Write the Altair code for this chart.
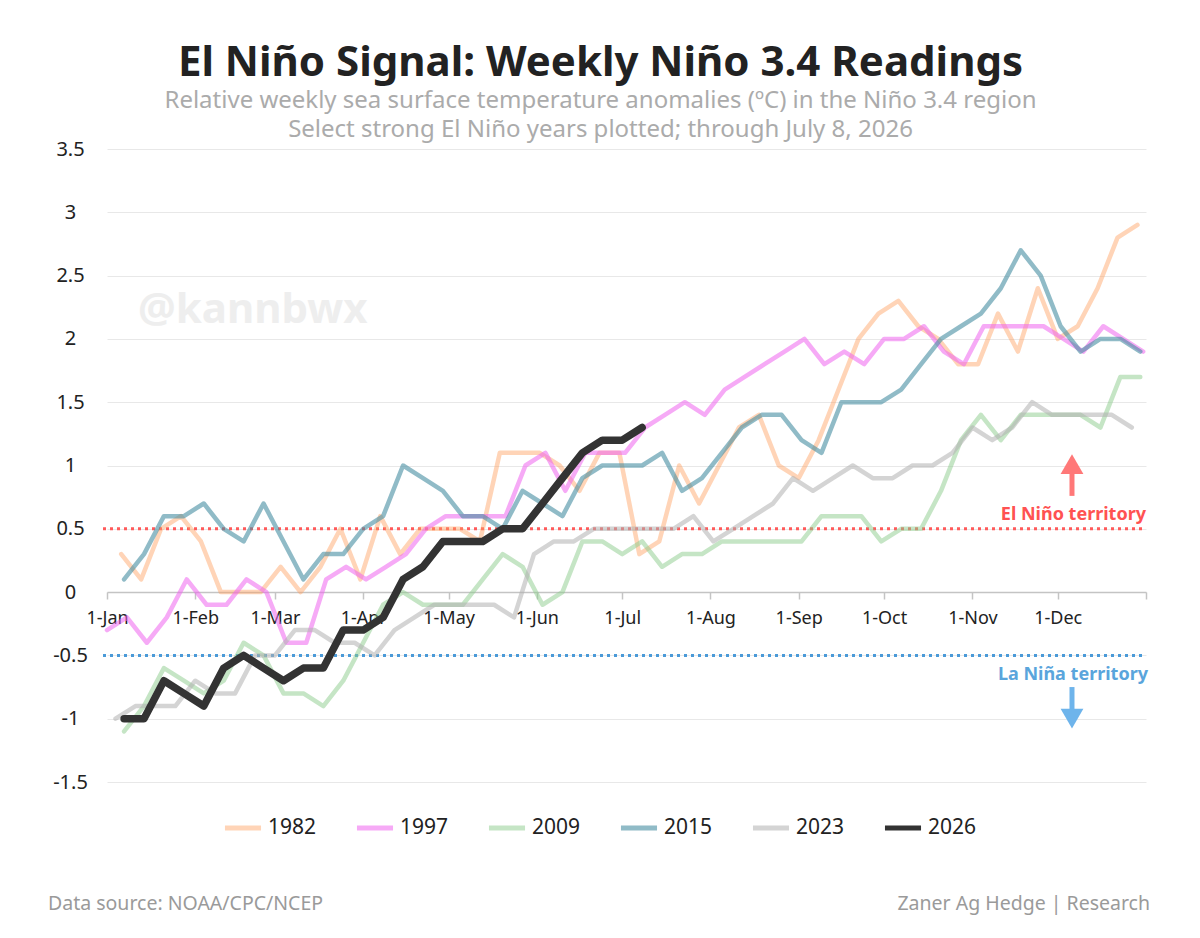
import altair as alt
import pandas as pd

FONT = "Noto Sans"

# Weekly Niño 3.4 anomalies (°C); each season starts on its own first Wednesday,
# shown on a common January–December calendar.
years = ["1982", "1997", "2009", "2015", "2023", "2026"]
start_dates = {
    "1982": "2026-01-06",
    "1997": "2026-01-01",
    "2009": "2026-01-07",
    "2015": "2026-01-07",
    "2023": "2026-01-04",
    "2026": "2026-01-07",
}

v1982 = [0.3, 0.1, 0.5, 0.6, 0.4, 0.0, 0.0, 0.0, 0.2, 0.0, 0.2, 0.5, 0.1,
         0.6, 0.3, 0.5, 0.5, 0.5, 0.4, 1.1, 1.1, 1.1, 1.0, 0.8, 1.1, 1.1,
         0.3, 0.4, 1.0, 0.7, 1.0, 1.3, 1.4, 1.0, 0.9, 1.2, 1.6, 2.0, 2.2,
         2.3, 2.1, 2.0, 1.8, 1.8, 2.2, 1.9, 2.4, 2.0, 2.1, 2.4, 2.8, 2.9]
v1997 = [-0.3, -0.2, -0.4, -0.2, 0.1, -0.1, -0.1, 0.1, 0.0, -0.4, -0.4, 0.1,
         0.2, 0.1, 0.2, 0.3, 0.5, 0.6, 0.6, 0.6, 0.6, 1.0, 1.1, 0.8, 1.1,
         1.1, 1.1, 1.3, 1.4, 1.5, 1.4, 1.6, 1.7, 1.8, 1.9, 2.0, 1.8, 1.9,
         1.8, 2.0, 2.0, 2.1, 1.9, 1.8, 2.1, 2.1, 2.1, 2.1, 2.0, 1.9, 2.1,
         2.0, 1.9]
v2009 = [-1.1, -0.9, -0.6, -0.7, -0.8, -0.7, -0.4, -0.5, -0.8, -0.8, -0.9,
         -0.7, -0.4, -0.1, 0.0, -0.1, -0.1, -0.1, 0.1, 0.3, 0.2, -0.1, 0.0,
         0.4, 0.4, 0.3, 0.4, 0.2, 0.3, 0.3, 0.4, 0.4, 0.4, 0.4, 0.4, 0.6,
         0.6, 0.6, 0.4, 0.5, 0.5, 0.8, 1.2, 1.4, 1.2, 1.4, 1.4, 1.4, 1.4,
         1.3, 1.7, 1.7]
v2015 = [0.1, 0.3, 0.6, 0.6, 0.7, 0.5, 0.4, 0.7, 0.4, 0.1, 0.3, 0.3, 0.5,
         0.6, 1.0, 0.9, 0.8, 0.6, 0.6, 0.5, 0.8, 0.7, 0.6, 0.9, 1.0, 1.0,
         1.0, 1.1, 0.8, 0.9, 1.1, 1.3, 1.4, 1.4, 1.2, 1.1, 1.5, 1.5, 1.5,
         1.6, 1.8, 2.0, 2.1, 2.2, 2.4, 2.7, 2.5, 2.1, 1.9, 2.0, 2.0, 1.9]
v2023 = [-1.0, -0.9, -0.9, -0.9, -0.7, -0.8, -0.8, -0.5, -0.5, -0.3, -0.3,
         -0.4, -0.4, -0.5, -0.3, -0.2, -0.1, -0.1, -0.1, -0.1, -0.2, 0.3,
         0.4, 0.4, 0.5, 0.5, 0.5, 0.5, 0.5, 0.6, 0.4, 0.5, 0.6, 0.7, 0.9,
         0.8, 0.9, 1.0, 0.9, 0.9, 1.0, 1.0, 1.1, 1.3, 1.2, 1.3, 1.5, 1.4,
         1.4, 1.4, 1.4, 1.3]
v2026 = [-1.0, -1.0, -0.7, -0.8, -0.9, -0.6, -0.5, -0.6, -0.7, -0.6, -0.6,
         -0.3, -0.3, -0.2, 0.1, 0.2, 0.4, 0.4, 0.4, 0.5, 0.5, 0.7, 0.9, 1.1,
         1.2, 1.2, 1.3]

series = {"1982": v1982, "1997": v1997, "2009": v2009,
          "2015": v2015, "2023": v2023, "2026": v2026}

line_colors = ["rgba(255,160,95,0.45)", "rgba(238,100,238,0.55)",
               "rgba(140,204,140,0.5)", "rgba(70,142,162,0.6)",
               "rgba(176,176,176,0.55)", "#333333"]

rows = []
for yr in years:
    vals = series[yr]
    dates = pd.date_range(start_dates[yr], periods=len(vals), freq="7D")
    for d, v in zip(dates, vals):
        rows.append({"date": d.strftime("%Y/%m/%d"), "anomaly": v, "year": yr})
df = pd.DataFrame(rows)

thresholds = pd.DataFrame({
    "level": [0.5, -0.5],
    "label": ["El Niño territory", "La Niña territory"],
})
arrow_date = "2026/12/06"
arrow_up = pd.DataFrame({"date": [arrow_date], "y0": [0.76], "y1": [0.97], "head": [1.01]})
arrow_dn = pd.DataFrame({"date": [arrow_date], "y0": [-0.75], "y1": [-0.95], "head": [-1.0]})

month_ticks = [alt.DateTime(year=2026, month=m, date=1) for m in range(1, 13)]
month_ticks.append(alt.DateTime(year=2027, month=1, date=1))

x_scale = alt.Scale(domain=[alt.DateTime(year=2026, month=1, date=1),
                            alt.DateTime(year=2027, month=1, date=1)])
y_scale = alt.Scale(domain=[-1.5, 3.5], nice=False)

x_axis = alt.Axis(
    values=month_ticks, format="%-d-%b",
    labelExpr="year(datum.value) > 2026 ? '' : datum.label",
    offset=-190, grid=False, title=None,
    domainColor="#c4c4c4", domainWidth=1.5, tickColor="#c4c4c4", tickWidth=1.5,
    tickSize=7, labelPadding=10, labelFontSize=18, labelColor="#222222",
    labelFont=FONT, labelAlign="center",
)
y_axis = alt.Axis(
    values=[-1.5, -1, -0.5, 0, 0.5, 1, 1.5, 2, 2.5, 3, 3.5],
    labelExpr="'' + datum.value", title=None, domain=False, ticks=False,
    tickSize=0, labelPadding=37, labelAlign="center", labelFontSize=20,
    labelColor="#222222", labelFont=FONT, gridColor="#e8e8e8", gridWidth=1,
)

color_enc = alt.Color(
    "year:N",
    scale=alt.Scale(domain=years, range=line_colors),
    legend=alt.Legend(
        title=None, orient="none", direction="horizontal",
        legendX=115, legendY=658, symbolType="stroke", symbolSize=1300,
        symbolStrokeWidth=5, labelFontSize=21, labelFont=FONT,
        labelColor="#222222", labelOffset=4, columnPadding=29,
    ),
)

base = alt.Chart(df)

watermark = alt.Chart(pd.DataFrame({"t": ["@kannbwx"]})).mark_text(
    font=FONT, fontSize=42, fontWeight="bold", color="#eeeeee",
    align="left", baseline="middle",
).encode(x=alt.value(31), y=alt.value(161), text="t:N")

thr_red = alt.Chart(thresholds.iloc[[0]]).mark_rule(
    color="#ff5a5a", strokeWidth=3, strokeDash=[3, 4]
).encode(y=alt.Y("level:Q", scale=y_scale, axis=y_axis), x=alt.value(-4), x2=alt.value(1039))
thr_blue = alt.Chart(thresholds.iloc[[1]]).mark_rule(
    color="#4a9ad8", strokeWidth=3, strokeDash=[3, 4]
).encode(y="level:Q", x=alt.value(-4), x2=alt.value(1039))

lab_red = alt.Chart(thresholds.iloc[[0]]).mark_text(
    font=FONT, fontSize=18, fontWeight="bold", color="#ff5252",
    align="right", baseline="middle", dy=-14,
).encode(y="level:Q", x=alt.value(1039), text="label:N")
lab_blue = alt.Chart(thresholds.iloc[[1]]).mark_text(
    font=FONT, fontSize=18, fontWeight="bold", color="#5aa5dc",
    align="right", baseline="middle", dy=20,
).encode(y="level:Q", x=alt.value(1041), text="label:N")

shaft_up = alt.Chart(arrow_up).mark_rule(color="#ff7878", strokeWidth=5).encode(
    x=alt.X("date:T", scale=x_scale), y="y0:Q", y2="y1:Q")
head_up = alt.Chart(arrow_up).mark_point(
    shape="triangle-up", filled=True, color="#ff7878", opacity=1, size=520
).encode(x="date:T", y="head:Q")
shaft_dn = alt.Chart(arrow_dn).mark_rule(color="#6eb4eb", strokeWidth=5).encode(
    x="date:T", y="y0:Q", y2="y1:Q")
head_dn = alt.Chart(arrow_dn).mark_point(
    shape="triangle-down", filled=True, color="#6eb4eb", opacity=1, size=520
).encode(x="date:T", y="head:Q")

# Past El Niño years: translucent lines
past_lines = base.transform_filter("datum.year != '2026'").mark_line(
    strokeWidth=4.5, strokeCap="round", strokeJoin="round"
).encode(
    x=alt.X("date:T", scale=x_scale, axis=x_axis),
    y=alt.Y("anomaly:Q", scale=y_scale),
    color=color_enc,
)
# Current year: heavy dark line on top
current_line = base.transform_filter("datum.year == '2026'").mark_line(
    strokeWidth=7.5, strokeCap="round", strokeJoin="round"
).encode(x="date:T", y="anomaly:Q", color=color_enc)

footer_left = alt.Chart(pd.DataFrame({"t": ["Data source: NOAA/CPC/NCEP"]})).mark_text(
    font=FONT, fontSize=19.5, color="#9a9a9a", align="left", baseline="middle"
).encode(x=alt.value(-59), y=alt.value(755), text="t:N")
footer_right = alt.Chart(pd.DataFrame({"t": ["Zaner Ag Hedge | Research"]})).mark_text(
    font=FONT, fontSize=19.5, color="#9a9a9a", align="right", baseline="middle"
).encode(x=alt.value(1043), y=alt.value(755), text="t:N")

chart = alt.layer(
    watermark, thr_red, thr_blue, past_lines, current_line, lab_red, lab_blue,
    shaft_up, head_up, shaft_dn, head_dn, footer_left, footer_right,
).properties(
    width=1039, height=633,
    autosize=alt.AutoSizeParams(type="none"),
    padding={"left": 107, "top": 149, "right": 54, "bottom": 156},
    title=alt.TitleParams(
        text="El Niño Signal: Weekly Niño 3.4 Readings",
        subtitle=["Relative weekly sea surface temperature anomalies (ºC) in the Niño 3.4 region",
                  "Select strong El Niño years plotted; through July 8, 2026"],
        anchor="middle", dx=-26, offset=-4,
        font=FONT, fontSize=42, fontWeight="bold", color="#222222",
        subtitleFont=FONT, subtitleFontSize=24, subtitleColor="#ababab",
        subtitlePadding=4, subtitleLineHeight=29,
    ),
).configure(background="white").configure_view(strokeWidth=0)

chart.save("out.html", embed_options={"renderer": "svg", "actions": False})
